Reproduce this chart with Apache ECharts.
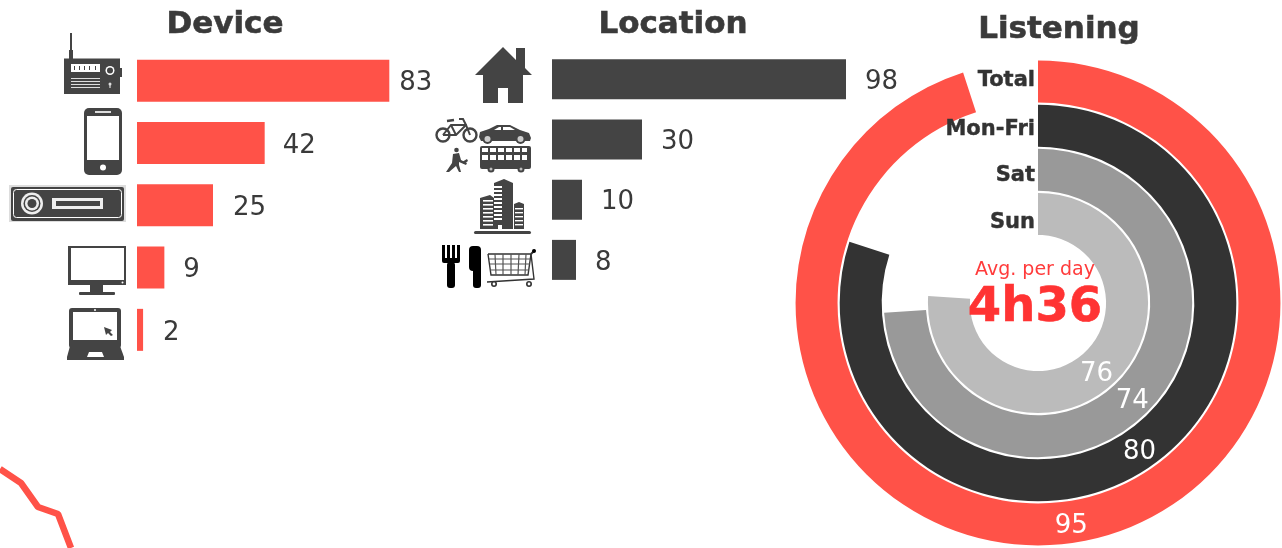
<!DOCTYPE html>
<html>
<head>
<meta charset="utf-8">
<title>Radio listening</title>
<script src="https://cdn.jsdelivr.net/npm/echarts@6/dist/echarts.min.js"></script>
<style>
  html, body { margin: 0; padding: 0; background: #fff; }
  #chart { width: 1282px; height: 548px; }
</style>
</head>
<body>
<div id="chart"></div>
<script>
const deviceNames = ['Radio', 'Phone', 'Car', 'TV', 'Computer']
const deviceValues = [83, 42, 25, 9, 2]
const locationNames = ['Home', 'Transport', 'Work', 'Other']
const locationValues = [98, 30, 10, 8]
// inner to outer ring
const listenNames = ['Sun', 'Sat', 'Mon-Fri', 'Total']
const listenValues = [76, 74, 80, 95]
// where the ring value sits along its ring, same unit as the values
const listenLabelAngles = [38.6, 37.5, 40.3, 47.6]
// loose bit of a cut off line, bottom left corner
const trendX = [0, 21, 38, 58, 71]
const trendY = [79, 65, 41, 34, 0]

const RED = '#ff5248'
const DARK = '#444444'
const INK = '#3a3a3a'
const FONT = '"DejaVu Sans", Verdana, sans-serif'
const ringColors = ['#bbbbbb', '#999999', '#333333', RED]
const ringLabelY = [223, 176, 130, 81]
const deviceGaps = [10, 18, 20, 19, 20]

// icon helpers, all in page pixels
const R = (x, y, width, height, fill, r) => ({ type: 'rect', silent: true, shape: { x, y, width, height, r: r || 0 }, style: { fill } })
const C = (cx, cy, r, fill) => ({ type: 'circle', silent: true, shape: { cx, cy, r }, style: { fill } })
const G = (points, fill) => ({ type: 'polygon', silent: true, shape: { points }, style: { fill } })
const L = (points, stroke, lineWidth) => ({ type: 'polyline', silent: true, shape: { points }, style: { stroke, lineWidth, fill: 'none' } })

const icons = [
  // radio
  R(70, 33, 2, 18, DARK), R(69, 50, 4, 9, DARK), R(64, 58.5, 56, 35.5, DARK), R(118, 68, 4, 9, DARK),
  R(71, 64, 29, 8, '#fff'), R(74, 66, 1, 4, DARK), R(79, 66, 1, 4, DARK), R(84, 66, 1, 4, DARK), R(89, 66, 1, 4, DARK), R(95, 66, 1, 4, DARK),
  C(110, 70.5, 4.5, '#fff'), C(110, 70.5, 3, DARK), R(71, 78, 29, 1, '#ddd'), R(71, 81, 29, 1, '#ddd'), R(71, 84, 29, 1, '#ddd'), R(71, 87, 29, 1, '#ddd'),
  C(110, 84, 1.5, '#ddd'), R(109.4, 84, 1.2, 4, '#ddd'),
  // phone
  R(84, 108, 38, 67, DARK, 5), R(87, 116, 32, 44, '#fff'), R(95, 111, 16, 2, '#ddd'), C(103, 167.5, 3, '#fff'),
  // car stereo
  R(9, 185, 117, 37, '#dddddd'), R(11, 187, 113, 34, DARK, 2),
  { type: 'rect', silent: true, shape: { x: 13.5, y: 189.5, width: 108, height: 28, r: 3 }, style: { fill: 'none', stroke: '#fff', lineWidth: 1 } },
  C(32, 203.5, 11, '#eee'), C(32, 203.5, 8.5, DARK), C(32, 203.5, 7, '#eee'), C(32, 203.5, 4.5, DARK),
  R(52, 198, 51, 11, '#eee'), R(56, 201, 44, 5, DARK),
  // tv
  R(68, 246, 58, 39, DARK), R(71, 248, 53, 32, '#fff'), C(122.5, 282.5, 1, '#fff'), R(90, 285, 13, 7, DARK), R(79, 292, 36, 3, DARK, 1),
  // laptop
  R(69, 308, 52, 40, DARK, 3), R(73, 312, 44, 28, '#fff'), C(95, 310, 1, '#fff'),
  G([[70, 346], [120, 346], [124, 357], [124, 360], [67, 360], [67, 357]], DARK), G([[89, 352], [102, 352], [104, 357], [87, 357]], '#fff'),
  G([[104, 327], [112, 330], [110, 332], [113, 335], [111, 336], [108, 333], [106, 335]], DARK),
  // house
  G([[503, 47], [516, 60], [516, 48], [525, 48], [525, 68], [532, 75], [523, 75], [523, 103], [508, 103], [508, 88], [498, 88], [498, 103], [483, 103], [483, 75], [475, 75]], DARK),
  // bicycle
  { type: 'circle', silent: true, shape: { cx: 443, cy: 135, r: 6.5 }, style: { fill: 'none', stroke: DARK, lineWidth: 2.4 } },
  { type: 'circle', silent: true, shape: { cx: 470, cy: 135, r: 6.5 }, style: { fill: 'none', stroke: DARK, lineWidth: 2.4 } },
  L([[443, 135], [451, 125], [466, 125], [470, 135]], DARK, 2), L([[443, 135], [456, 135], [466, 125]], DARK, 2), L([[451, 125], [456, 135]], DARK, 2),
  L([[447, 121], [454, 120]], DARK, 2.4), L([[466, 125], [463, 119], [459, 119]], DARK, 2),
  // car
  G([[479, 137], [480, 132], [489, 129], [497, 125], [510, 125], [520, 130], [529, 133], [531, 138], [530, 141], [481, 141]], DARK),
  G([[494, 130], [499, 127], [501, 127], [501, 130]], '#fff'), G([[503, 127], [510, 127], [515, 130], [503, 130]], '#fff'),
  C(487.5, 139, 5, DARK), C(487.5, 139, 3, '#ccc'), C(520.5, 139, 5, DARK), C(520.5, 139, 3, '#ccc'),
  // pedestrian
  C(456.5, 150, 2.3, DARK), G([[453, 154], [459, 153], [461, 160], [467, 163], [466, 165], [459, 162], [459, 165], [461, 172], [459, 172], [456, 166], [449, 172], [446, 172], [452, 163]], DARK),
  G([[462, 162], [467, 159], [468, 161], [464, 164]], DARK),
  // bus
  R(480, 146, 51, 23, DARK, 2), C(491, 169, 3.5, DARK), C(491, 169, 1.5, '#bbb'), C(521, 169, 3.5, DARK), C(521, 169, 1.5, '#bbb'),
  R(482, 148, 6, 4, '#fff'), R(490, 148, 6, 4, '#fff'), R(498, 148, 6, 4, '#fff'), R(506, 148, 6, 4, '#fff'), R(514, 148, 6, 4, '#fff'), R(522, 148, 5, 4, '#fff'),
  R(482, 155, 6, 5, '#fff'), R(490, 155, 6, 5, '#fff'), R(498, 155, 6, 5, '#fff'), R(506, 155, 6, 5, '#fff'), R(514, 155, 6, 5, '#fff'), R(522, 155, 5, 5, '#fff'),
  // buildings
  G([[480, 198], [490, 195], [494, 198], [494, 229], [480, 229]], DARK),
  G([[494, 183], [504, 179], [513, 183], [513, 229], [494, 229]], DARK),
  G([[514, 204], [519, 202], [524, 204], [524, 229], [514, 229]], DARK),
  R(474, 231, 57, 3, DARK, 1.5), R(498, 225, 4, 4, '#fff'),
  ...[200, 204, 208, 212, 216, 220, 224].map(y => R(483, y, 10, 1.6, '#fff')),
  ...[186, 190, 194, 198, 202, 206, 210, 214, 218].map(y => R(494, y, 8, 2, '#fff')),
  ...[208, 212, 216, 220, 224].map(y => R(515, y, 8, 1.4, '#fff')),
  // knife and fork
  R(442, 245, 3, 15, '#000'), R(447, 245, 3, 15, '#000'), R(452, 245, 3, 15, '#000'), R(457, 245, 3, 15, '#000'), R(442, 258, 18, 5, '#000', 2), R(447, 262, 8, 26, '#000', 3),
  R(469, 246, 12, 25, '#000', 4), R(473, 262, 8, 26, '#000', 3),
  // cart
  L([[488, 254], [531, 254], [528, 275], [491, 275], [488, 254]], '#333', 1.4),
  L([[535, 250], [531, 254]], '#333', 2), C(534, 251, 2, '#000'),
  L([[489, 259], [530, 259]], '#555', 1.2), L([[490, 264], [530, 264]], '#555', 1.2), L([[490, 270], [529, 270]], '#555', 1.2),
  L([[495, 254], [496, 275]], '#555', 1.2), L([[503, 254], [503, 275]], '#555', 1.2), L([[511, 254], [511, 275]], '#555', 1.2), L([[519, 254], [518, 275]], '#555', 1.2), L([[526, 254], [525, 275]], '#555', 1.2),
  L([[487, 282], [534, 279], [531, 254]], '#333', 1.4), C(494, 284, 3, '#333'), C(494, 284, 1.4, '#fff'), C(529, 284, 3, '#333'), C(529, 284, 1.4, '#fff')
]

const headText = (text, x, y) => ({ text, left: x, top: y, textAlign: 'center', textVerticalAlign: 'middle', padding: 0,
  textStyle: { color: INK, fontFamily: FONT, fontWeight: 'bold', fontSize: 31, textBorderColor: INK, textBorderWidth: 0.6 } })
const titles = [
  headText('Device', 225, 25),
  headText('Location', 673, 25),
  headText('Listening', 1059, 30),
  ...listenNames.map((name, i) => ({ text: name, left: 1035, top: ringLabelY[i], textAlign: 'right', textVerticalAlign: 'middle', padding: 0,
    textStyle: { color: '#333', fontFamily: FONT, fontWeight: 'bold', fontSize: 21, textBorderColor: '#333', textBorderWidth: 0.4 } })),
  { text: 'Avg. per day', left: 1035, top: 270, textAlign: 'center', textVerticalAlign: 'middle', padding: 0, z: 8,
    textStyle: { color: '#ff3b3b', fontFamily: FONT, fontWeight: 'normal', fontSize: 19 } },
  { text: '4h36', left: 1035, top: 309, textAlign: 'center', textVerticalAlign: 'middle', padding: 0, z: 8,
    textStyle: { color: '#ff3333', fontFamily: FONT, fontWeight: 'bold', fontSize: 48, textBorderColor: '#ff3333', textBorderWidth: 0.6 } }
]

const hiddenAxis = { show: false }
const barLabel = { show: true, position: 'right', color: INK, fontFamily: FONT, fontSize: 26, offset: [0, 3] }

const option = {
  animation: false,
  backgroundColor: '#fff',
  title: titles,
  graphic: { elements: icons },
  grid: [
    { left: 137, top: 49.5, width: 304, height: 311.5 },
    { left: 552, top: 49, width: 300, height: 241 },
    { left: 0, top: 450, width: 100, height: 98 }
  ],
  xAxis: [
    { ...hiddenAxis, type: 'value', gridIndex: 0, min: 0, max: 100 },
    { ...hiddenAxis, type: 'value', gridIndex: 1, min: 0, max: 100 },
    { ...hiddenAxis, type: 'value', gridIndex: 2, min: 0, max: 100 }
  ],
  yAxis: [
    { ...hiddenAxis, type: 'category', gridIndex: 0, inverse: true, data: deviceNames },
    { ...hiddenAxis, type: 'category', gridIndex: 1, inverse: true, data: locationNames },
    { ...hiddenAxis, type: 'value', gridIndex: 2, min: 0, max: 98 }
  ],
  polar: { center: [1038, 303], radius: [67, 243.5] },
  angleAxis: { show: false, type: 'value', min: 0, max: 100, startAngle: 90 },
  radiusAxis: { show: false, type: 'category', data: listenNames },
  series: [
    {
      name: 'Device', type: 'bar', xAxisIndex: 0, yAxisIndex: 0, barWidth: 42,
      itemStyle: { color: RED },
      data: deviceValues.map((value, i) => ({ value, label: { ...barLabel, distance: deviceGaps[i] } }))
    },
    {
      name: 'Location', type: 'bar', xAxisIndex: 1, yAxisIndex: 1, barWidth: 40,
      itemStyle: { color: DARK },
      label: { ...barLabel, distance: 19 },
      data: locationValues
    },
    {
      name: 'Trend', type: 'line', xAxisIndex: 2, yAxisIndex: 2, symbol: 'none',
      lineStyle: { color: RED, width: 6.5 },
      data: trendX.map((x, i) => [x, trendY[i]])
    },
    {
      name: 'Listening', type: 'bar', coordinateSystem: 'polar', barWidth: 42,
      data: listenValues.map((value, i) => ({ value, itemStyle: { color: ringColors[i] } }))
    },
    {
      name: 'Listening labels', type: 'scatter', coordinateSystem: 'polar', symbolSize: 1, z: 5,
      itemStyle: { color: 'transparent', opacity: 1 },
      label: { show: true, position: 'inside', color: '#fff', fontFamily: FONT, fontSize: 26, offset: [0, 4],
        formatter: p => listenValues[p.dataIndex] },
      data: listenNames.map((name, i) => [i, listenLabelAngles[i]])
    }
  ]
}

const chart = echarts.init(document.getElementById('chart'))
chart.setOption(option)
window.addEventListener('resize', () => chart.resize())
</script>
</body>
</html>
